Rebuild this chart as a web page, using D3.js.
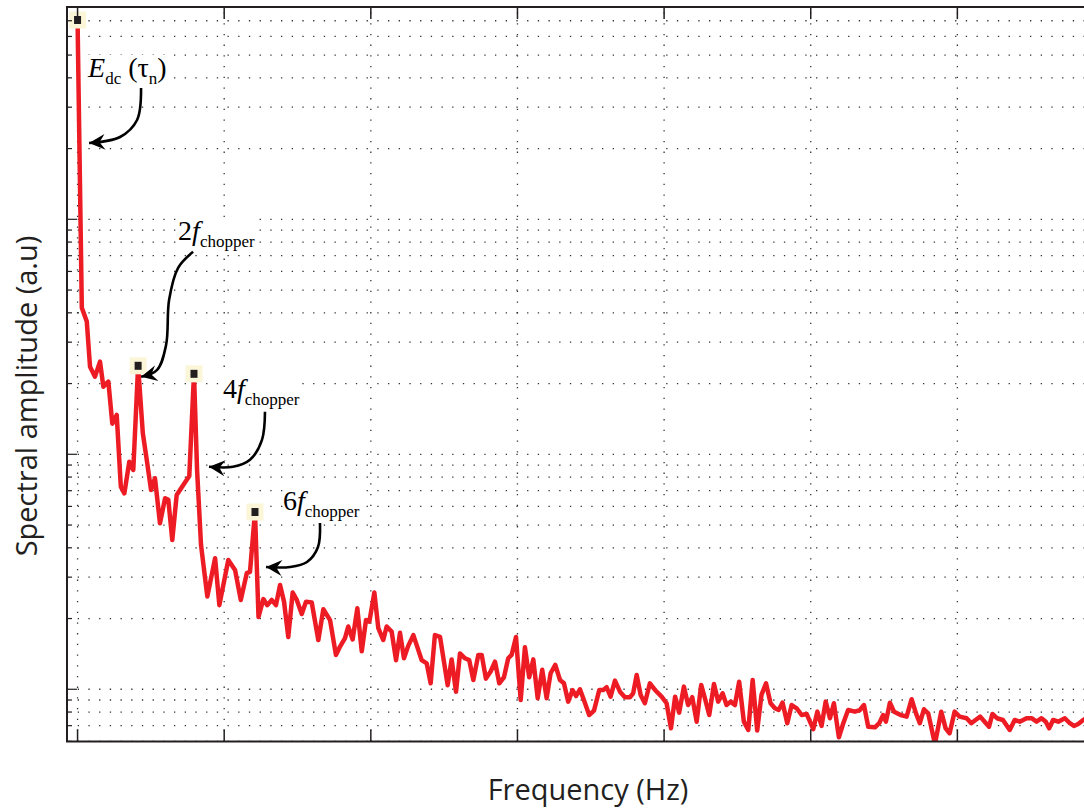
<!DOCTYPE html>
<html>
<head>
<meta charset="utf-8">
<script src="https://cdn.jsdelivr.net/npm/d3@7"></script>
<style>
  html, body { margin: 0; padding: 0; background: #fff; }
  svg { display: block; }
</style>
</head>
<body>
<div id="chart"></div>
<script>
"use strict";

// spectrum (frequency in Hz, amplitude in a.u.)
const freq = [
  0, 2.9, 6.3, 8.5, 11.9, 15.3, 17.6, 21.0, 23.7, 26.7,
  29.5, 31.9, 35.3, 38.0, 41.3, 44.5, 47.2, 50.1, 52.8, 56.2,
  59.7, 61.9, 64.6, 67.6, 72.1, 76.2, 79.4, 81.5, 84.2, 88.5,
  93.8, 96.7, 102.8, 107.4, 111.3, 115.4, 117.6, 121.0, 123.4, 126.7,
  129.4, 132.4, 135.3, 138.1, 140.8, 143.7, 146.7, 149.5, 152.9, 155.8,
  159.7, 164.2, 167.6, 172.2, 176.2, 179.0, 182.4, 184.6, 187.6, 190.8,
  193.8, 196.7, 199.0, 202.4, 205.1, 208.5, 210.8, 214.2, 217.2, 219.9,
  222.6, 225.5, 229.0, 234.7, 238.1, 240.8, 243.7, 247.2, 252.4, 255.1,
  258.1, 260.8, 264.2, 267.1, 269.9, 273.3, 275.6, 278.5, 281.7, 284.7,
  287.6, 290.8, 293.7, 296.0, 299.0, 302.2, 305.1, 308.0, 310.8, 313.8,
  316.9, 319.9, 322.6, 325.8, 329.0, 331.7, 334.6, 337.6, 339.9, 342.6,
  345.3, 348.9, 352.2, 355.8, 358.5, 360.8, 363.5, 366.5, 369.9, 373.3,
  376.7, 378.9, 381.3, 384.0, 386.9, 390.3, 393.8, 398.3, 401.7, 404.7,
  407.5, 410.3, 413.5, 416.4, 419.2, 422.2, 425.3, 427.8, 430.8, 434.0,
  436.9, 439.9, 442.6, 445.4, 448.3, 451.2, 454.4, 457.4, 460.4, 463.5,
  466.4, 469.5, 472.6, 475.6, 478.1, 480.8, 484.0, 487.0, 490.4, 493.8,
  497.2, 501.7, 504.5, 507.4, 510.2, 513.1, 515.8, 519.2, 522.2, 525.5,
  530.1, 533.5, 536.3, 539.2, 543.8, 546.7, 549.4, 551.3, 554.0, 556.8,
  561.3, 565.4, 568.8, 571.8, 574.4, 577.2, 580.1, 584.7, 589.0, 592.0,
  594.7, 598.1, 601.5, 606.3, 609.5, 612.4, 615.6, 618.6, 621.6, 623.9,
  627.0, 631.1, 635.7, 639.1, 642.5, 647.2, 650.6, 654.0, 657.4, 660.3,
  662.6, 665.3, 668.8, 673.3, 676.7, 679.5, 682.4, 685.8, 690.3
];

const amp = [
  705, 42, 36.7, 23.6, 21.4, 24.8, 19.4, 20.4, 13.5, 14.7,
  7.28, 6.82, 9.30, 8.58, 23.8, 12.3, 9.46, 7.05, 7.91, 5.09,
  6.50, 6.40, 4.32, 6.71, 7.40, 8.08, 22.0, 8.58, 4.11, 2.48,
  3.61, 2.28, 3.55, 3.22, 2.40, 3.12, 3.16, 5.68, 2.03, 2.42,
  2.28, 2.40, 2.28, 2.78, 2.36, 1.67, 2.58, 2.40, 2.09, 2.36,
  2.34, 1.62, 2.19, 1.97, 1.40, 1.52, 1.65, 1.85, 1.63, 2.21,
  1.45, 1.97, 1.94, 2.58, 1.82, 1.62, 1.85, 1.76, 1.33, 1.74,
  1.355, 1.53, 1.70, 1.33, 1.29, 1.06, 1.70, 1.67, 1.04, 1.34,
  0.977, 1.42, 1.355, 1.33, 1.095, 1.40, 1.40, 1.11, 1.19, 1.31,
  1.06, 1.125, 1.355, 1.40, 1.67, 0.90, 1.51, 1.125, 1.34, 0.916,
  1.21, 0.916, 1.17, 1.27, 1.095, 1.06, 0.886, 0.993, 0.936, 1.0,
  0.90, 0.777, 0.811, 0.993, 0.993, 1.02, 0.93, 1.088, 0.977, 0.925,
  0.925, 0.961, 1.15, 0.946, 0.872, 1.06, 0.993, 0.93, 0.872, 0.682,
  0.93, 0.795, 1.026, 0.857, 0.925, 0.728, 1.043, 0.916, 0.777, 1.053,
  0.886, 0.961, 0.857, 0.886, 0.857, 1.077, 0.728, 0.671, 1.095, 0.667,
  0.946, 1.06, 0.872, 0.83, 0.816, 0.877, 0.717, 0.857, 0.83, 0.777,
  0.785, 0.676, 0.803, 0.698, 0.886, 0.753, 0.872, 0.625, 0.717, 0.816,
  0.803, 0.816, 0.857, 0.693, 0.689, 0.717, 0.777, 0.728, 0.877, 0.803,
  0.777, 0.765, 0.907, 0.79, 0.717, 0.822, 0.79, 0.585, 0.803, 0.682,
  0.65, 0.803, 0.765, 0.753, 0.717, 0.74, 0.765, 0.728, 0.693, 0.785,
  0.753, 0.74, 0.671, 0.74, 0.728, 0.753, 0.753, 0.728, 0.753, 0.728,
  0.682, 0.74, 0.728, 0.753, 0.717, 0.698, 0.712, 0.74, 0.765
];

// DC term and the chopper harmonics (indices into the series)
const peak_idx = [0, 14, 26, 37];

const x_ticks = [0, 100, 200, 300, 400, 500, 600, 700];

const x_title = 'Frequency (Hz)';
const y_title = 'Spectral amplitude (a.u)';

// annotation text, one list of pieces per peak
const labels = [
  [{ t: 'E', it: true }, { t: 'dc', sub: true }, { t: '\u00a0(\u03c4' }, { t: 'n', sub: true }, { t: ')' }],
  [{ t: '2' }, { t: 'f', it: true }, { t: 'chopper', sub: true }],
  [{ t: '4' }, { t: 'f', it: true }, { t: 'chopper', sub: true }],
  [{ t: '6' }, { t: 'f', it: true }, { t: 'chopper', sub: true }]
];

// label / arrow placement, pixel offsets from the peak
const label_pos = [[10.5, 57], [40, -126], [29, 24], [28, -2]];
const arrow_pts = [
  [[63.5, 68], [59.5, 100], [42.5, 117], [11.5, 123]],
  [[55, -114], [40, -98], [31, -66], [28, -21], [19, 4], [3, 11]],
  [[71, 38], [68, 66], [56, 86], [39, 93], [15, 93]],
  [[65, 11], [63, 35], [52, 50], [35, 55], [11, 55]]
];

const width = 1084, height = 812;
const m = { left: 67, top: 7.1, bottom: 741.4, right: 1104 };

const svg = d3.select('#chart')
  .append('svg')
  .attr('width', width)
  .attr('height', height);

const x = d3.scaleLinear().domain([-7.2, 700]).range([m.left, m.right]);
const y = d3.scaleLog().domain([0.6, 800]).range([m.bottom, m.top]);

const y_ticks = y.ticks();
const is_major = v => Math.abs(Math.log10(v) - Math.round(Math.log10(v))) < 1e-9;

// dotted grid
const grid = svg.append('g')
  .attr('stroke', '#333')
  .attr('stroke-width', 1.3)
  .attr('stroke-dasharray', '1.3,9.4');

grid.selectAll('.hg')
  .data(y_ticks)
  .join('line')
  .attr('x1', m.left)
  .attr('x2', m.right)
  .attr('y1', d => y(d))
  .attr('y2', d => y(d));

grid.selectAll('.vg')
  .data(x_ticks)
  .join('line')
  .attr('x1', d => x(d))
  .attr('x2', d => x(d))
  .attr('y1', m.bottom)
  .attr('y2', m.top);

// spectrum line
svg.append('clipPath')
  .attr('id', 'plot_clip')
  .append('rect')
  .attr('x', m.left)
  .attr('y', m.top)
  .attr('width', m.right - m.left)
  .attr('height', m.bottom - m.top);

const line = d3.line()
  .x(d => x(d[0]))
  .y(d => y(d[1]));

svg.append('path')
  .datum(d3.zip(freq, amp))
  .attr('clip-path', 'url(#plot_clip)')
  .attr('d', line)
  .attr('fill', 'none')
  .attr('stroke', '#ed1c24')
  .attr('stroke-width', 4.5)
  .attr('stroke-linejoin', 'round');

// peak markers
const peaks = peak_idx.map(i => [x(freq[i]), y(amp[i])]);

svg.selectAll('.mk_bg')
  .data(peaks)
  .join('rect')
  .attr('x', d => d[0] - 8.5)
  .attr('y', d => d[1] - 8.5)
  .attr('width', 17)
  .attr('height', 17)
  .attr('fill', '#fbf6d8');

svg.selectAll('.mk')
  .data(peaks)
  .join('rect')
  .attr('x', d => d[0] - 3.5)
  .attr('y', d => d[1] - 4)
  .attr('width', 7)
  .attr('height', 8)
  .attr('fill', '#231f20');

// axes box with inward ticks
const ax = svg.append('g')
  .attr('stroke', '#231f20')
  .attr('fill', 'none');

ax.append('path')
  .attr('d', `M${m.right},${m.top}H${m.left}V${m.bottom}H${m.right}`)
  .attr('stroke-width', 2);

ax.selectAll('.yt')
  .data(y_ticks)
  .join('line')
  .attr('x1', m.left)
  .attr('x2', d => m.left + (is_major(d) ? 10 : 5))
  .attr('y1', d => y(d))
  .attr('y2', d => y(d))
  .attr('stroke-width', 1.2);

ax.selectAll('.xb')
  .data(x_ticks)
  .join('line')
  .attr('x1', d => x(d))
  .attr('x2', d => x(d))
  .attr('y1', m.bottom)
  .attr('y2', m.bottom - 12)
  .attr('stroke-width', 1.5);

ax.selectAll('.xt')
  .data(x_ticks)
  .join('line')
  .attr('x1', d => x(d))
  .attr('x2', d => x(d))
  .attr('y1', m.top)
  .attr('y2', m.top + 12)
  .attr('stroke-width', 1.5);

// axis titles
svg.append('text')
  .text(x_title)
  .attr('x', 588)
  .attr('y', 800)
  .attr('text-anchor', 'middle')
  .attr('font-family', '"Open Sans", sans-serif')
  .attr('font-size', 29)
  .attr('fill', '#231f20');

svg.append('text')
  .text(y_title)
  .attr('transform', 'translate(37,396) rotate(-90)')
  .attr('text-anchor', 'middle')
  .attr('font-family', '"Open Sans", sans-serif')
  .attr('font-size', 29)
  .attr('fill', '#231f20');

// annotations
svg.append('defs')
  .append('marker')
  .attr('id', 'head')
  .attr('markerUnits', 'userSpaceOnUse')
  .attr('viewBox', '-17 -9 18 18')
  .attr('markerWidth', 18)
  .attr('markerHeight', 18)
  .attr('refX', 0)
  .attr('refY', 0)
  .attr('orient', 'auto')
  .append('path')
  .attr('d', 'M0,0 L-16,-8 L-10.5,0 L-16,8 Z')
  .attr('fill', '#000');

const curve = d3.line().curve(d3.curveCatmullRom.alpha(0.5));

peaks.forEach(function (p, i) {
  svg.append('path')
    .attr('d', curve(arrow_pts[i].map(o => [p[0] + o[0], p[1] + o[1]])))
    .attr('fill', 'none')
    .attr('stroke', '#000')
    .attr('stroke-width', 2.6)
    .attr('marker-end', 'url(#head)');

  // white box behind the label hides the grid dots
  const bg = svg.append('rect').attr('fill', '#fff');

  const t = svg.append('text')
    .attr('x', p[0] + label_pos[i][0])
    .attr('y', p[1] + label_pos[i][1])
    .attr('font-family', '"Liberation Serif", "Times New Roman", serif')
    .attr('fill', '#000');

  let shift = 0;
  labels[i].forEach(function (d) {
    const to = d.sub ? 7 : 0;
    t.append('tspan')
      .text(d.t)
      .attr('dy', to - shift)
      .attr('font-size', d.sub ? 17 : 28)
      .attr('font-style', d.it ? 'italic' : 'normal');
    shift = to;
  });

  const b = t.node().getBBox();
  bg.attr('x', b.x)
    .attr('y', b.y + 3)
    .attr('width', b.width)
    .attr('height', b.height - 4);
});
</script>
</body>
</html>
